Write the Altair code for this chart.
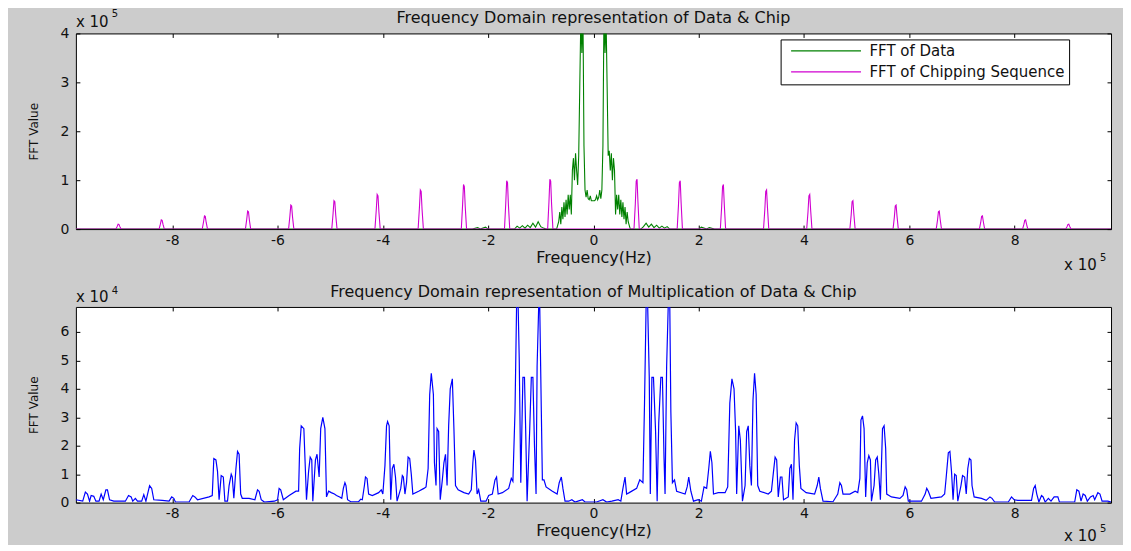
import altair as alt
import pandas as pd

FONT = "DejaVu Sans"
INK = "#111111"

# ---------------- data (frequency in units of 1e5 Hz) ----------------
x_ticks = [-8, -6, -4, -2, 0, 2, 4, 6, 8]
top_y_ticks = [0, 1, 2, 3, 4]
bottom_y_ticks = [0, 1, 2, 3, 4, 5, 6]

# FFT of Data (values in 1e5)
data_freq = [-9.83, -2.3, -2.2, -2.15, -2.05, -2.0, -1.5, -1.45, -1.4, -1.35, -1.3, -1.25, -1.2, -1.15,
             -1.1, -1.05, -1.0, -0.95, -0.9, -0.7, -0.66, -0.64, -0.62, -0.6, -0.58, -0.56, -0.54, -0.52,
             -0.5, -0.48, -0.46, -0.44, -0.42, -0.4, -0.38, -0.36, -0.34, -0.32, -0.3, -0.28, -0.26, -0.24,
             -0.22, -0.2, -0.18, -0.16, -0.14, -0.12, -0.1, -0.08, -0.06, -0.04, -0.02, 0.0, 0.02, 0.04,
             0.06, 0.08, 0.1, 0.12, 0.14, 0.16, 0.18, 0.2, 0.22, 0.24, 0.26, 0.28, 0.3, 0.32, 0.34, 0.36,
             0.38, 0.4, 0.42, 0.44, 0.46, 0.48, 0.5, 0.52, 0.54, 0.56, 0.58, 0.6, 0.62, 0.64, 0.66, 0.7,
             0.9, 0.95, 1.0, 1.05, 1.1, 1.15, 1.2, 1.25, 1.3, 1.35, 1.4, 1.45, 2.0, 2.05, 2.15, 2.2, 2.3, 9.83]
data_fft = [0, 0, 0.03, 0, 0.04, 0, 0, 0.06, 0.02, 0.07, 0.02, 0.08, 0.03, 0.12,
            0.04, 0.15, 0.05, 0.02, 0, 0, 0.15, 0.35, 0.1, 0.45, 0.2, 0.55, 0.25, 0.6,
            0.3, 0.7, 0.4, 0.7, 0.3, 1.2, 1.45, 1.0, 1.55, 1.2, 0.9, 1.5, 2.9, 4.3,
            3.6, 4.5, 1.7, 0.8, 0.65, 0.8, 0.62, 0.6, 0.68, 0.58, 0.58, 0.58, 0.58, 0.6,
            0.68, 0.6, 0.65, 0.8, 0.62, 0.8, 1.7, 4.5, 3.6, 4.3, 2.9, 1.5, 1.6, 1.2, 1.55, 1.0,
            1.45, 1.2, 0.3, 0.7, 0.4, 0.7, 0.3, 0.6, 0.25, 0.55, 0.2, 0.45, 0.1, 0.35, 0.15, 0,
            0, 0.05, 0.12, 0.04, 0.1, 0.03, 0.08, 0.02, 0.06, 0.02, 0.05, 0, 0, 0.04, 0, 0.03, 0, 0]

# FFT of Chipping Sequence (values in 1e5)
chip_freq = [-9.83,
             -9.07, -9.045, -9.028, -9.012, -8.995, -8.97,
             -8.25, -8.225, -8.208, -8.192, -8.175, -8.15,
             -7.43, -7.405, -7.388, -7.372, -7.355, -7.33,
             -6.61, -6.585, -6.568, -6.552, -6.535, -6.51,
             -5.79, -5.765, -5.748, -5.732, -5.715, -5.69,
             -4.97, -4.945, -4.928, -4.912, -4.895, -4.87,
             -4.15, -4.125, -4.108, -4.092, -4.075, -4.05,
             -3.33, -3.305, -3.288, -3.272, -3.255, -3.23,
             -2.51, -2.485, -2.468, -2.452, -2.435, -2.41,
             -1.69, -1.665, -1.648, -1.632, -1.615, -1.59,
             -0.87, -0.845, -0.828, -0.812, -0.795, -0.77,
             0.77, 0.795, 0.812, 0.828, 0.845, 0.87,
             1.59, 1.615, 1.632, 1.648, 1.665, 1.69,
             2.41, 2.435, 2.452, 2.468, 2.485, 2.51,
             3.23, 3.255, 3.272, 3.288, 3.305, 3.33,
             4.05, 4.075, 4.092, 4.108, 4.125, 4.15,
             4.87, 4.895, 4.912, 4.928, 4.945, 4.97,
             5.69, 5.715, 5.732, 5.748, 5.765, 5.79,
             6.51, 6.535, 6.552, 6.568, 6.585, 6.61,
             7.33, 7.355, 7.372, 7.388, 7.405, 7.43,
             8.15, 8.175, 8.192, 8.208, 8.225, 8.25,
             8.97, 8.995, 9.012, 9.028, 9.045, 9.07,
             9.83]
chip_fft = [0,
            0, 0.055, 0.10, 0.096, 0.05, 0,
            0, 0.10, 0.19, 0.18, 0.095, 0,
            0, 0.15, 0.27, 0.26, 0.135, 0,
            0, 0.20, 0.37, 0.355, 0.185, 0,
            0, 0.27, 0.49, 0.47, 0.245, 0,
            0, 0.32, 0.58, 0.56, 0.29, 0,
            0, 0.39, 0.71, 0.68, 0.355, 0,
            0, 0.44, 0.80, 0.77, 0.40, 0,
            0, 0.50, 0.91, 0.87, 0.455, 0,
            0, 0.54, 0.99, 0.95, 0.495, 0,
            0, 0.56, 1.02, 0.98, 0.51, 0,
            0, 0.51, 0.98, 1.02, 0.56, 0,
            0, 0.495, 0.95, 0.99, 0.54, 0,
            0, 0.455, 0.87, 0.91, 0.50, 0,
            0, 0.40, 0.77, 0.80, 0.44, 0,
            0, 0.355, 0.68, 0.71, 0.39, 0,
            0, 0.29, 0.56, 0.58, 0.32, 0,
            0, 0.245, 0.47, 0.49, 0.27, 0,
            0, 0.185, 0.355, 0.37, 0.20, 0,
            0, 0.135, 0.26, 0.27, 0.15, 0,
            0, 0.095, 0.18, 0.19, 0.10, 0,
            0, 0.05, 0.096, 0.10, 0.055, 0,
            0]

# FFT of Data x Chip (frequency 1e5, value 1e4)
mult_points = [
    (-9.83, 0.1), (-9.70, 0.05), (-9.65, 0.37), (-9.61, 0.3), (-9.57, 0.05), (-9.54, 0.25), (-9.49, 0.22),
    (-9.45, 0.05), (-9.39, 0.05), (-9.35, 0.3), (-9.31, 0.1), (-9.26, 0.45), (-9.23, 0.45), (-9.19, 0.1),
    (-9.11, 0.05), (-8.89, 0.05), (-8.83, 0.25), (-8.78, 0.2), (-8.75, 0.05), (-8.70, 0.15), (-8.66, 0.05),
    (-8.58, 0.05), (-8.54, 0.28), (-8.50, 0.05), (-8.43, 0.6), (-8.39, 0.5), (-8.35, 0.1), (-8.19, 0.08),
    (-8.06, 0.05), (-8.01, 0.2), (-7.97, 0.15), (-7.94, 0.02), (-7.68, 0.02), (-7.61, 0.25), (-7.57, 0.2),
    (-7.52, 0.1), (-7.30, 0.2), (-7.24, 0.25), (-7.21, 1.55), (-7.17, 1.5), (-7.14, 1.1), (-7.11, 0.1),
    (-7.07, 0.95), (-7.03, 0.9), (-7.0, 0.05), (-6.95, 0.05), (-6.92, 0.6), (-6.88, 1.0), (-6.86, 0.9),
    (-6.83, 0.15), (-6.79, 1.2), (-6.76, 1.8), (-6.73, 1.7), (-6.70, 0.3), (-6.67, 0.15), (-6.54, 0.15),
    (-6.43, 0.1), (-6.38, 0.45), (-6.35, 0.4), (-6.31, 0.1), (-6.25, 0.02), (-6.06, 0.05), (-6.0, 0.1),
    (-5.97, 0.5), (-5.94, 0.45), (-5.89, 0.1), (-5.78, 0.25), (-5.65, 0.4), (-5.60, 0.4), (-5.58, 1.9),
    (-5.55, 2.7), (-5.50, 2.6), (-5.47, 1.1), (-5.45, 0.1), (-5.41, 1.1), (-5.38, 1.6), (-5.35, 1.5),
    (-5.33, 0.05), (-5.28, 1.5), (-5.25, 1.7), (-5.21, 0.9), (-5.18, 2.6), (-5.14, 3.0), (-5.10, 2.6),
    (-5.07, 0.2), (-5.03, 0.4), (-4.98, 0.35), (-4.92, 0.3), (-4.88, 0.25), (-4.82, 0.2), (-4.78, 0.15),
    (-4.75, 0.5), (-4.72, 0.7), (-4.70, 0.6), (-4.67, 0.1), (-4.61, 0.03), (-4.46, 0.03), (-4.42, 0.12),
    (-4.39, 0.1), (-4.35, 0.6), (-4.33, 0.9), (-4.30, 0.85), (-4.27, 0.3), (-4.20, 0.25), (-4.08, 0.35),
    (-4.03, 0.45), (-4.0, 0.3), (-3.96, 1.3), (-3.93, 2.7), (-3.91, 2.85), (-3.88, 2.7), (-3.85, 0.1),
    (-3.82, 1.2), (-3.79, 1.35), (-3.76, 0.9), (-3.73, 0.05), (-3.66, 0.5), (-3.63, 0.95), (-3.61, 0.9),
    (-3.58, 0.3), (-3.55, 0.7), (-3.52, 1.6), (-3.49, 1.55), (-3.46, 1.0), (-3.43, 0.3), (-3.32, 0.4),
    (-3.22, 0.5), (-3.18, 0.55), (-3.14, 1.2), (-3.11, 3.8), (-3.08, 4.55), (-3.04, 3.8), (-3.02, 1.4),
    (-2.99, 0.6), (-2.97, 2.6), (-2.94, 2.5), (-2.91, 0.1), (-2.87, 0.8), (-2.84, 1.4), (-2.81, 1.7),
    (-2.78, 0.6), (-2.75, 2.7), (-2.72, 4.0), (-2.68, 4.35), (-2.65, 2.6), (-2.62, 0.6), (-2.57, 0.45),
    (-2.46, 0.35), (-2.37, 0.3), (-2.32, 0.45), (-2.29, 1.4), (-2.27, 1.85), (-2.24, 1.5), (-2.21, 0.3),
    (-2.18, 0.45), (-2.14, 0.05), (-2.04, 0.05), (-1.99, 0.25), (-1.92, 0.3), (-1.87, 0.8), (-1.84, 0.9),
    (-1.81, 0.3), (-1.73, 0.35), (-1.61, 0.5), (-1.56, 0.85), (-1.53, 0.75), (-1.49, 3.2), (-1.46, 6.9),
    (-1.43, 6.9), (-1.41, 5.1), (-1.38, 0.7), (-1.34, 4.4), (-1.31, 4.4), (-1.29, 2.8), (-1.26, 0.05),
    (-1.21, 2.6), (-1.18, 4.4), (-1.15, 4.4), (-1.12, 2.0), (-1.09, 0.3), (-1.07, 4.8), (-1.04, 6.9),
    (-1.02, 6.9), (-0.99, 3.2), (-0.97, 0.8), (-0.94, 0.8), (-0.90, 0.55), (-0.78, 0.4), (-0.69, 0.3),
    (-0.65, 0.7), (-0.61, 0.9), (-0.58, 0.5), (-0.54, 0.05), (-0.47, 0.05), (-0.41, 0.1), (-0.35, 0.02),
    (-0.25, 0.08), (-0.21, 0.1), (-0.16, 0.02), (0.0, 0.02), (0.06, 0.02), (0.18, 0.1), (0.25, 0.02),
    (0.35, 0.05), (0.47, 0.1), (0.52, 0.05), (0.56, 0.5), (0.60, 0.9), (0.63, 0.3), (0.68, 0.35),
    (0.82, 0.5), (0.88, 0.8), (0.94, 0.7), (0.97, 3.5), (1.0, 6.9), (1.03, 6.9), (1.06, 4.4), (1.08, 0.3),
    (1.11, 4.4), (1.14, 4.4), (1.18, 2.5), (1.21, 0.05), (1.24, 2.8), (1.28, 4.4), (1.31, 4.4), (1.34, 1.6),
    (1.36, 0.3), (1.39, 4.8), (1.42, 6.9), (1.45, 6.9), (1.47, 3.2), (1.50, 0.7), (1.54, 0.8), (1.58, 0.4),
    (1.74, 0.3), (1.78, 0.55), (1.81, 0.9), (1.85, 0.4), (1.90, 0.05), (1.99, 0.1), (2.05, 0.05),
    (2.10, 0.55), (2.15, 0.5), (2.19, 1.2), (2.22, 1.8), (2.25, 1.4), (2.28, 0.3), (2.37, 0.35),
    (2.50, 0.35), (2.55, 0.55), (2.59, 3.5), (2.63, 4.35), (2.67, 4.0), (2.70, 2.5), (2.72, 0.3),
    (2.76, 2.7), (2.79, 2.2), (2.83, 0.05), (2.88, 0.6), (2.91, 2.5), (2.94, 2.7), (2.97, 1.3), (3.0, 0.6),
    (3.03, 3.6), (3.06, 4.55), (3.09, 3.8), (3.12, 0.6), (3.16, 0.4), (3.32, 0.3), (3.38, 0.4), (3.42, 1.1),
    (3.45, 1.6), (3.48, 1.5), (3.51, 0.2), (3.55, 0.9), (3.58, 0.9), (3.61, 0.1), (3.70, 0.2), (3.73, 1.2),
    (3.76, 1.35), (3.79, 0.1), (3.82, 2.2), (3.85, 2.8), (3.88, 2.7), (3.91, 1.3), (3.94, 0.5), (4.04, 0.35),
    (4.20, 0.3), (4.25, 0.6), (4.28, 0.9), (4.31, 0.5), (4.36, 0.05), (4.55, 0.03), (4.64, 0.3), (4.68, 0.7),
    (4.71, 0.6), (4.74, 0.3), (4.87, 0.3), (4.97, 0.4), (5.02, 0.35), (5.06, 0.85), (5.08, 2.9), (5.11, 3.05),
    (5.14, 2.6), (5.17, 0.2), (5.20, 1.4), (5.23, 1.65), (5.26, 1.5), (5.28, 0.05), (5.33, 0.6), (5.36, 1.5),
    (5.39, 1.6), (5.42, 1.0), (5.45, 0.1), (5.49, 2.6), (5.52, 2.7), (5.55, 1.9), (5.57, 0.3), (5.66, 0.2),
    (5.82, 0.15), (5.88, 0.25), (5.92, 0.55), (5.95, 0.45), (5.98, 0.05), (6.23, 0.05), (6.30, 0.3),
    (6.33, 0.5), (6.36, 0.4), (6.41, 0.15), (6.61, 0.2), (6.67, 0.3), (6.70, 0.9), (6.74, 1.75), (6.77, 1.8),
    (6.80, 1.1), (6.83, 0.1), (6.86, 1.0), (6.89, 0.95), (6.92, 0.05), (6.98, 0.6), (7.01, 0.95), (7.05, 0.9),
    (7.08, 0.3), (7.11, 1.2), (7.14, 1.55), (7.17, 1.5), (7.19, 0.6), (7.23, 0.2), (7.37, 0.15), (7.46, 0.08),
    (7.53, 0.2), (7.57, 0.15), (7.62, 0.02), (7.88, 0.02), (7.94, 0.2), (7.99, 0.1), (8.06, 0.08),
    (8.32, 0.08), (8.36, 0.5), (8.39, 0.6), (8.42, 0.3), (8.46, 0.02), (8.51, 0.25), (8.54, 0.2),
    (8.58, 0.02), (8.64, 0.15), (8.69, 0.05), (8.75, 0.2), (8.82, 0.2), (8.85, 0.02), (9.14, 0.02),
    (9.18, 0.45), (9.22, 0.4), (9.26, 0.05), (9.30, 0.3), (9.34, 0.25), (9.38, 0.05), (9.44, 0.2),
    (9.49, 0.25), (9.52, 0.1), (9.58, 0.35), (9.62, 0.3), (9.66, 0.05), (9.77, 0.05), (9.83, 0.02),
]

series_names = ["FFT of Data", "FFT of Chipping Sequence"]
series_colors = ["#008000", "#d000d0"]
blue = "#0000ff"

top_title = "Frequency Domain representation of Data & Chip"
bottom_title = "Frequency Domain representation of Multiplication of Data & Chip"

# ---------------- tables ----------------
top_df = pd.concat([
    pd.DataFrame({"freq": data_freq, "fft": data_fft, "series": series_names[0]}),
    pd.DataFrame({"freq": chip_freq, "fft": chip_fft, "series": series_names[1]}),
], ignore_index=True)
bottom_df = pd.DataFrame({"freq": [p[0] for p in mult_points], "fft": [p[1] for p in mult_points]})
one = pd.DataFrame({"k": [0]})

W, H = 1037, 196
XDOM = [-9.83, 9.83]
LBL = "'' + datum.value"


def x_bottom_axis():
    return alt.Axis(orient="bottom", offset=-4, tickSize=4, values=x_ticks, labelPadding=4,
                    labelExpr=LBL,
                    title="Frequency(Hz)", titleX=W / 2, titleY=32, titleAlign="center",
                    titleBaseline="middle")


def y_left_axis(vals):
    return alt.Axis(orient="left", offset=-4, tickSize=4, values=vals, labelPadding=7,
                    labelExpr=LBL,
                    title="FFT Value", titleX=-46, titleY=H / 2, titleAngle=270,
                    titleAlign="center", titleBaseline="middle", titleFontSize=12)


def x_top_axis():
    return alt.Axis(orient="top", offset=-4, tickSize=4, values=x_ticks, labels=False, title=None)


def y_right_axis(vals):
    return alt.Axis(orient="right", offset=-4, tickSize=4, values=vals, labels=False, title=None)


def text_mark(txt, x, y, size, align="left"):
    return alt.Chart(one).mark_text(align=align, baseline="middle", fontSize=size, font=FONT,
                                    color=INK).encode(
        x=alt.value(x), y=alt.value(y), text=alt.value(txt))


def annotations(title, exp, y_tl, y_tl_sup, y_br):
    return [
        text_mark(title, W / 2, -15, 16, align="center"),
        text_mark("x 10", 0, y_tl, 15),
        text_mark(exp, 36, y_tl_sup, 10),
        text_mark("x 10", 990, y_br, 15),
        text_mark("5", 1026, y_br - 7, 10),
    ]


color_enc = alt.Color("series:N", scale=alt.Scale(domain=series_names, range=series_colors),
                      legend=alt.Legend(orient="none", legendX=706, legendY=6, title=None,
                                        symbolType="M-7,0H7", symbolSize=100, symbolStrokeWidth=1.2,
                                        symbolOffset=34, labelOffset=36, labelLimit=400,
                                        labelFont=FONT, labelFontSize=15, labelColor=INK,
                                        strokeColor="black", fillColor="white", padding=4,
                                        rowPadding=5, cornerRadius=0))

xs = alt.Scale(domain=XDOM, nice=False, zero=False)
ys_top = alt.Scale(domain=[0, 4], nice=False)
ys_bot = alt.Scale(domain=[0, 6.88], nice=False)

green = alt.Chart(top_df).transform_filter(alt.datum.series == series_names[0]).mark_line(
    strokeWidth=1.1, clip=True).encode(
    x=alt.X("freq:Q", scale=xs, axis=x_bottom_axis()),
    y=alt.Y("fft:Q", scale=ys_top, axis=y_left_axis(top_y_ticks)),
    color=color_enc)
magenta = alt.Chart(top_df).transform_filter(alt.datum.series == series_names[1]).mark_line(
    strokeWidth=1.1, clip=True).encode(
    x=alt.X("freq:Q", scale=xs, axis=None),
    y=alt.Y("fft:Q", scale=ys_top, axis=None),
    color=color_enc)
top_axes = alt.Chart(one).mark_point(opacity=0).encode(
    x=alt.X("k:Q", scale=xs, axis=x_top_axis()),
    y=alt.Y("k:Q", scale=ys_top, axis=y_right_axis(top_y_ticks)))

top = alt.layer(green, magenta, top_axes, *annotations(top_title, "5", -11, -19, 232)).resolve_axis(
    x="independent", y="independent").properties(width=W, height=H)

bline = alt.Chart(bottom_df).mark_line(strokeWidth=1.2, clip=True, color=blue).encode(
    x=alt.X("freq:Q", scale=xs, axis=x_bottom_axis()),
    y=alt.Y("fft:Q", scale=ys_bot, axis=y_left_axis(bottom_y_ticks)))
bot_axes = alt.Chart(one).mark_point(opacity=0).encode(
    x=alt.X("k:Q", scale=xs, axis=x_top_axis()),
    y=alt.Y("k:Q", scale=ys_bot, axis=y_right_axis(bottom_y_ticks)))

bottom = alt.layer(bline, bot_axes, *annotations(bottom_title, "4", -10, -16, 229)).resolve_axis(
    x="independent", y="independent").properties(width=W, height=H)

chart = alt.vconcat(top, bottom, spacing=78, bounds="flush").properties(
    padding={"left": 19, "top": 0, "right": 11, "bottom": 0},
    background="#cccccc",
).configure_view(
    stroke="black", strokeWidth=1, fill="white"
).configure_axis(
    grid=False, domain=False, tickColor="black", tickWidth=1,
    labelFont=FONT, labelFontSize=14, labelColor=INK,
    titleFont=FONT, titleFontSize=16, titleFontWeight="normal", titleColor=INK,
)

chart.save("out.html", embed_options={"renderer": "svg", "actions": False})
